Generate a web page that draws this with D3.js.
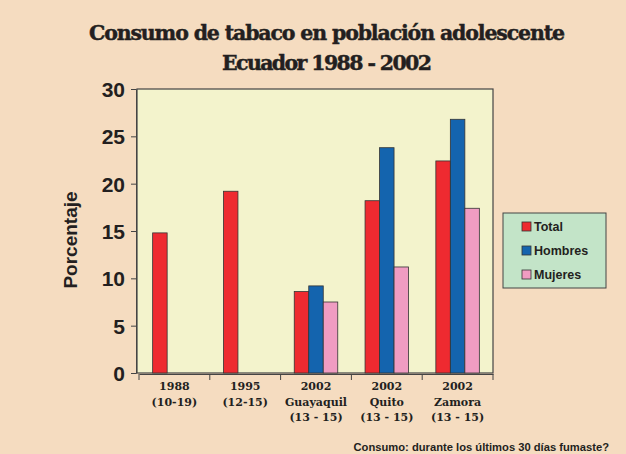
<!DOCTYPE html>
<html>
<head>
<meta charset="utf-8">
<script src="https://cdn.jsdelivr.net/npm/d3@7"></script>
<style>
body{margin:0;background:#f5dcc0;}
</style>
</head>
<body>
<div id="chart"></div>
<script>
var categories=["1988","1995","Guayaquil","Quito","Zamora"];
var catLabels=[["1988","(10-19)"],["1995","(12-15)"],["2002","Guayaquil","(13 - 15)"],["2002","Quito","(13 - 15)"],["2002","Zamora","(13 - 15)"]];
var series=["Total","Hombres","Mujeres"];
var total=[14.8,19.2,8.6,18.2,22.4];
var hombres=[null,null,9.2,23.8,26.8];
var mujeres=[null,null,7.5,11.2,17.4];
var yTicks=[0,5,10,15,20,25,30];
var colors=["#ee2a30","#1464ae","#f09cc2"];

var W=626,H=454;
var m={left:137,right:133,top:89,bottom:81};
var svg=d3.select("#chart").append("svg")
	.attr("width",W)
	.attr("height",H);
svg.append("rect").attr("width",W).attr("height",H).attr("fill","#f5dcc0");

var x=d3.scaleBand().domain(categories).range([m.left+2,W-m.right]);
var xs=d3.scaleBand().domain(series).range([0,43.5]);
var y=d3.scaleLinear().domain([0,30]).range([H-m.bottom,m.top]);

//plot background
svg.append("rect")
	.attr("x",m.left)
	.attr("y",m.top)
	.attr("width",W-m.right-m.left)
	.attr("height",H-m.bottom-m.top)
	.attr("fill","#f3f3cc")
	.attr("stroke","#444")
	.attr("stroke-width",1.2);

//title
svg.append("text").attr("x",327).attr("y",40)
	.attr("text-anchor","middle").attr("font-family","DejaVu Serif").attr("font-weight","bold")
	.attr("font-size",20.5).attr("fill","#231f20").attr("stroke","#231f20").attr("stroke-width",0.45)
	.attr("textLength",476)
	.text("Consumo de tabaco en población adolescente");
svg.append("text").attr("x",327).attr("y",70)
	.attr("text-anchor","middle").attr("font-family","DejaVu Serif").attr("font-weight","bold")
	.attr("font-size",20.5).attr("fill","#231f20").attr("stroke","#231f20").attr("stroke-width",0.45)
	.attr("textLength",210)
	.text("Ecuador 1988 - 2002");

//bars
var values=[total,hombres,mujeres];
series.forEach(function(s,si){
	svg.append("g").selectAll("rect")
		.data(categories.map(function(c,i){return {c:c,v:values[si][i]};}).filter(function(d){return d.v!=null;}))
		.enter().append("rect")
		.attr("x",function(d){return x(d.c)+(x.bandwidth()-43.5)/2+xs(s);})
		.attr("y",function(d){return y(d.v);})
		.attr("width",xs.bandwidth())
		.attr("height",function(d){return y(0)-y(d.v);})
		.attr("fill",colors[si])
		.attr("stroke","#333")
		.attr("stroke-width",0.8);
});

//y axis
var yAxis=svg.append("g").attr("transform","translate("+(m.left-1)+",0)")
	.call(d3.axisLeft(y).tickValues(yTicks).tickSize(5).tickPadding(6));
yAxis.select(".domain").attr("stroke","#444");
yAxis.selectAll("line").attr("stroke","#444");
yAxis.selectAll("text").attr("font-family","Liberation Sans").attr("font-weight","bold")
	.attr("font-size",21).attr("fill","#231f20").attr("dy","0.36em");

//x axis
var xAxis=svg.append("g").attr("transform","translate(0,"+(H-m.bottom+1)+")")
	.call(d3.axisBottom(x).tickValues([]).tickSizeOuter(0));
xAxis.select(".domain").attr("stroke","#444");
var bounds=categories.map(function(c){return x(c);}).concat([x(categories[categories.length-1])+x.bandwidth()]);
xAxis.selectAll(".sep").data(bounds).enter().append("line")
	.attr("x1",function(d){return d;}).attr("x2",function(d){return d;})
	.attr("y1",0).attr("y2",6).attr("stroke","#444");

catLabels.forEach(function(lines,i){
	var t=svg.append("text")
		.attr("x",x(categories[i])+x.bandwidth()/2)
		.attr("y",390)
		.attr("text-anchor","middle")
		.attr("font-family","DejaVu Serif").attr("font-weight","bold")
		.attr("font-size",11).attr("fill","#231f20");
	lines.forEach(function(l,j){
		t.append("tspan").attr("x",x(categories[i])+x.bandwidth()/2).attr("dy",j==0?0:15.5).text(l);
	});
});

//y label
svg.append("text")
	.attr("transform","translate(77,240) rotate(-90)")
	.attr("text-anchor","middle")
	.attr("font-family","Liberation Sans").attr("font-weight","bold")
	.attr("font-size",19).attr("fill","#231f20")
	.text("Porcentaje");

//legend
var lg=svg.append("g").attr("transform","translate(503,213)");
lg.append("rect").attr("width",103).attr("height",75)
	.attr("fill","#c3e4c8").attr("stroke","#444").attr("stroke-width",1);
series.forEach(function(s,i){
	lg.append("rect").attr("x",19).attr("y",9+i*24).attr("width",9).attr("height",9)
		.attr("fill",colors[i]).attr("stroke","#333").attr("stroke-width",0.8);
	lg.append("text").attr("x",31).attr("y",18+i*24)
		.attr("font-family","Liberation Sans").attr("font-weight","bold")
		.attr("font-size",12.5).attr("fill","#231f20").text(s);
});

//footer
svg.append("text").attr("x",609).attr("y",451)
	.attr("text-anchor","end")
	.attr("font-family","Liberation Sans").attr("font-weight","bold")
	.attr("font-size",11.2).attr("fill","#231f20")
	.text("Consumo: durante los últimos 30 días fumaste?");
</script>
</body>
</html>
